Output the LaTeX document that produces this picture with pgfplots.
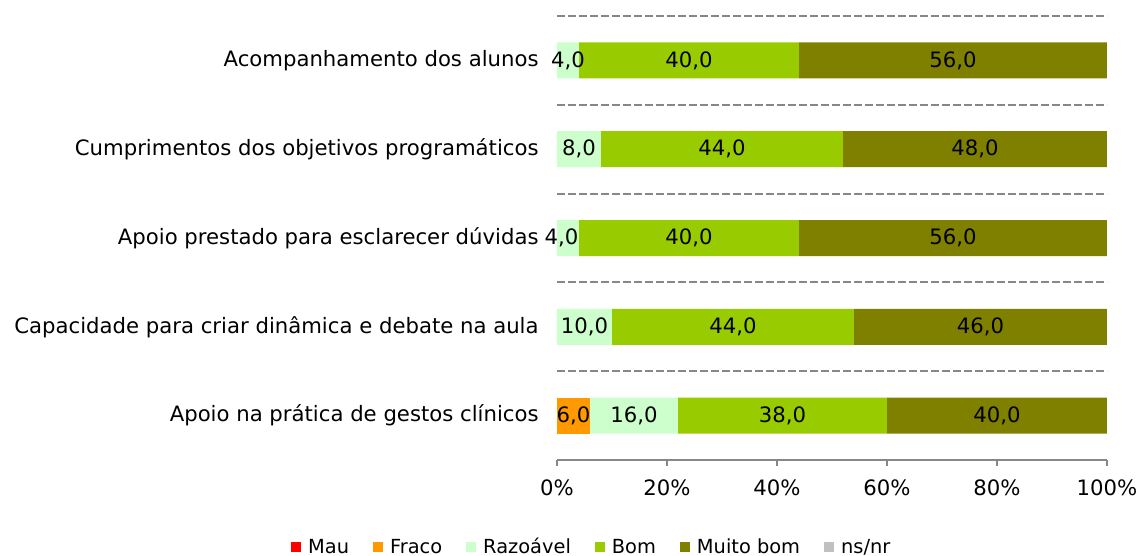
\documentclass[border=0pt]{standalone}
\usepackage{fontspec}
\setmainfont{DejaVu Sans}
\usepackage{pgfplots}
\pgfplotsset{compat=1.18}
\definecolor{cmau}{HTML}{FF0000}
\definecolor{cfraco}{HTML}{FF9900}
\definecolor{crazo}{HTML}{CCFFCC}
\definecolor{cbom}{HTML}{99CC00}
\definecolor{cmuito}{HTML}{808000}
\definecolor{cns}{HTML}{C0C0C0}
\definecolor{cgrid}{HTML}{878787}
\begin{document}
\fontsize{10.6}{12.7}\selectfont
\begin{tikzpicture}
\useasboundingbox (-278.5pt,-48pt) rectangle (292.5pt,230pt);
\begin{axis}[
  scale only axis, width=275pt, height=222pt,
  xbar stacked, bar width=18pt,
  xmin=0, xmax=100, ymin=-0.5, ymax=4.5,
  /pgf/number format/assume math mode=true,
  axis x line*=bottom, axis y line*=left,
  y axis line style={draw=none},
  x axis line style={draw=cgrid, line width=1pt},
  xtick={0,20,...,100},
  xticklabel={\pgfmathprintnumber{\tick}\%},
  xticklabel style={yshift=-3pt},
  tick align=outside,
  xtick style={draw=cgrid, line width=1pt},
  major tick length=3pt,
  ytick={0,1,2,3,4},
  yticklabels={Apoio na prática de gestos clínicos,Capacidade para criar dinâmica e debate na aula,Apoio prestado para esclarecer dúvidas,Cumprimentos dos objetivos programáticos,Acompanhamento dos alunos},
  yticklabel style={anchor=east, xshift=-2.5pt},
  ytick style={draw=none},
  minor ytick={0.5,1.5,2.5,3.5,4.5},
  minor tick style={draw=none},
  yminorgrids=true,
  minor grid style={draw=cgrid, line width=1pt, dash pattern=on 4pt off 1.5pt},
  legend columns=6,
  legend style={draw=none, at={(0.065,-0.196)}, anchor=center,
    nodes={text height=1.6ex, text depth=0.4ex},
    /tikz/every odd column/.append style={column sep=1.5pt},
    /tikz/every even column/.append style={column sep=10pt},
    font=\fontsize{9.7}{11.6}\selectfont},
  legend image code/.code={\fill[#1] (0pt,-2.5pt) rectangle (5pt,2.5pt);},
]
\addplot[fill=cmau, draw=none] coordinates {(0,0) (0,1) (0,2) (0,3) (0,4)};
\addplot[fill=cfraco, draw=none] coordinates {(6,0) (0,1) (0,2) (0,3) (0,4)};
\addplot[fill=crazo, draw=none] coordinates {(16,0) (10,1) (4,2) (8,3) (4,4)};
\addplot[fill=cbom, draw=none] coordinates {(38,0) (44,1) (40,2) (44,3) (40,4)};
\addplot[fill=cmuito, draw=none] coordinates {(40,0) (46,1) (56,2) (48,3) (56,4)};
\addplot[fill=cns, draw=none] coordinates {(0,0) (0,1) (0,2) (0,3) (0,4)};
\legend{Mau,Fraco,Razoável,Bom,Muito bom,ns/nr}
\end{axis}
\begin{axis}[
  scale only axis, width=275pt, height=222pt,
  xmin=0, xmax=100, ymin=-0.5, ymax=4.5,
  hide axis,
  /pgf/number format/assume math mode=true,
]
\addplot[only marks, mark=none, point meta=explicit,
  nodes near coords={\pgfmathprintnumber[fixed,fixed zerofill,precision=1,use comma]{\pgfplotspointmeta}},
  every node near coord/.style={anchor=center, text=black, inner sep=0pt}]
  table[meta=v] {
x y v
3 0 6
14 0 16
41 0 38
80 0 40
5 1 10
32 1 44
77 1 46
0.8 2 4
24 2 40
72 2 56
4 3 8
30 3 44
76 3 48
2 4 4
24 4 40
72 4 56
};
\end{axis}
\end{tikzpicture}
\end{document}
